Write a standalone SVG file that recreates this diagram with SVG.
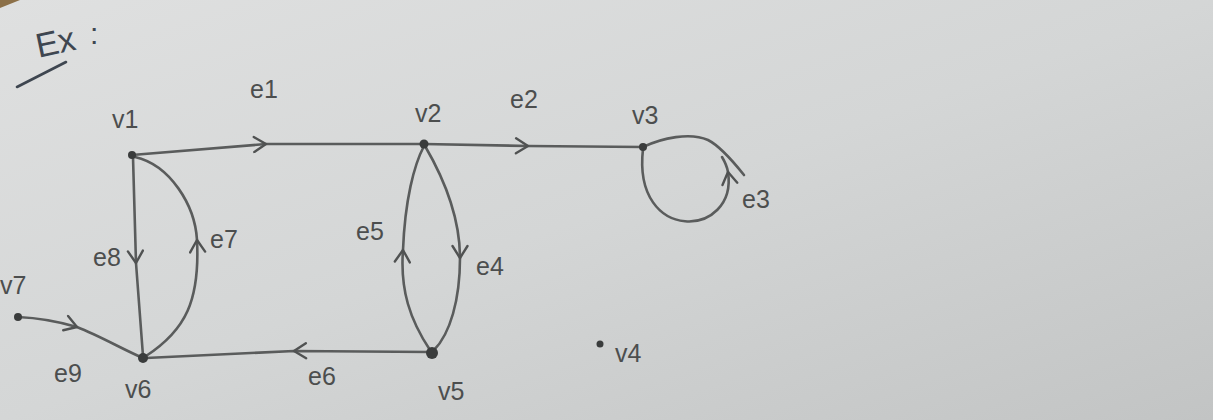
<svg xmlns="http://www.w3.org/2000/svg" width="1213" height="420" viewBox="0 0 1213 420">
<defs>
<linearGradient id="paper" x1="0" y1="0" x2="1" y2="1">
<stop offset="0" stop-color="#dfe0e0"/>
<stop offset="0.5" stop-color="#d4d6d6"/>
<stop offset="1" stop-color="#c2c4c4"/>
</linearGradient>
<marker id="chev" viewBox="-14 -9 16 18" markerWidth="16" markerHeight="18" refX="0" refY="0" orient="auto" markerUnits="userSpaceOnUse">
<path d="M-12,-7.5 L0,0 L-12,7.5" fill="none" stroke="#505252" stroke-width="2.4" stroke-linecap="round" stroke-linejoin="round"/>
</marker>
</defs>
<style>
.edge{fill:none;stroke:#5a5c5c;stroke-width:2.6;stroke-linecap:round;stroke-linejoin:round}
.arr{marker-mid:url(#chev)}
.lbl{font-family:"Liberation Sans","DejaVu Sans",sans-serif;font-size:25px;fill:#4c4e4e}
.dot{fill:#3a3c3c}
</style>
<rect x="0" y="0" width="1213" height="420" fill="url(#paper)"/>
<polygon points="0,0 20,0 0,8" fill="#8c7048"/>

<g id="title">
<text class="lbl" x="36" y="55" transform="rotate(-12 50 45)" style="font-size:34px;fill:#3e4650">Ex</text>
<text class="lbl" x="90" y="44" style="font-size:30px;fill:#3e4650">:</text>
<path d="M17,87 L66,62" class="edge" style="stroke:#3e4650"/>
</g>

<g id="connectors">
<path id="e1" class="edge arr" d="M132,155 L266,144 L424,144"/>
<path id="e2" class="edge arr" d="M424,144 L528,146 L643,147"/>
<path id="e3-top" class="edge" d="M643,147 C662,138 690,132 708,140 C718,145 728,155 744,175"/>
<path id="e3" class="edge arr" d="M643,149 C632,245 738,238 728,172 C727,166 725,162 722,157"/>
<path id="e8" class="edge arr" d="M133,157 L136,263 L143,356"/>
<path id="e7" class="edge arr" d="M146,356 C186,330 200,300 197,240 C195,205 170,165 135,157"/>
<path id="e5" class="edge arr" d="M430,350 C410,320 400,290 403,250 C405,200 414,165 424,146"/>
<path id="e4" class="edge arr" d="M425,146 C446,182 460,222 460,258 C460,300 450,334 434,350"/>
<path id="e6" class="edge arr" d="M430,352 L294,351 L146,358"/>
<path id="e9" class="edge arr" d="M18,317 C40,318 60,322 77,327 C100,336 124,350 143,358"/>
</g>

<g id="v1"><circle class="dot" cx="132" cy="155" r="4"/><text class="lbl" x="112" y="128">v1</text></g>
<g id="v2"><circle class="dot" cx="424" cy="144" r="4.5"/><text class="lbl" x="415" y="122">v2</text></g>
<g id="v3"><circle class="dot" cx="643" cy="147" r="4"/><text class="lbl" x="632" y="124">v3</text></g>
<g id="v4"><circle class="dot" cx="600" cy="344" r="3.5"/><text class="lbl" x="615" y="362">v4</text></g>
<g id="v5"><circle class="dot" cx="432" cy="353" r="6"/><text class="lbl" x="438" y="400">v5</text></g>
<g id="v6"><circle class="dot" cx="143" cy="358" r="5"/><text class="lbl" x="125" y="398">v6</text></g>
<g id="v7"><circle class="dot" cx="18" cy="317" r="4"/><text class="lbl" x="0" y="294">v7</text></g>

<g id="edge-labels">
<text class="lbl" x="250" y="98">e1</text>
<text class="lbl" x="510" y="108">e2</text>
<text class="lbl" x="742" y="208">e3</text>
<text class="lbl" x="476" y="275">e4</text>
<text class="lbl" x="356" y="240">e5</text>
<text class="lbl" x="308" y="385">e6</text>
<text class="lbl" x="210" y="248">e7</text>
<text class="lbl" x="93" y="266">e8</text>
<text class="lbl" x="54" y="382">e9</text>
</g>
</svg>
